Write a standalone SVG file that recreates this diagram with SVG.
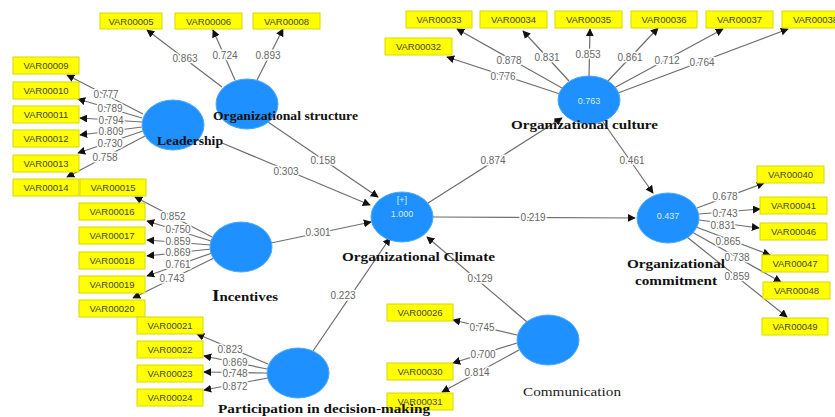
<svg xmlns="http://www.w3.org/2000/svg" width="835" height="417" viewBox="0 0 835 417">
<defs>
<marker id="ah" viewBox="0 0 10 10" refX="9" refY="5" markerWidth="8" markerHeight="8" markerUnits="userSpaceOnUse" orient="auto">
<path d="M0,0 L10,5 L0,10 z" fill="#111"/>
</marker>
<style>
.bg{fill:#fff}
.lv rect{fill:#ffff00;stroke:#d8d800;stroke-width:1}
.lv text{font-family:"Liberation Sans",Arial,sans-serif;font-size:9.5px;fill:#444;text-anchor:middle}
.cv ellipse{fill:#1e90ff;stroke:#4aa8ff;stroke-width:1}
.cv .val{font-family:"Liberation Sans",Arial,sans-serif;font-size:9px;fill:#d8ecff;text-anchor:middle}
.nm{font-family:"Liberation Serif","Times New Roman",serif;font-size:13px;font-weight:bold;fill:#111}
.nr{font-family:"Liberation Serif","Times New Roman",serif;font-size:13px;fill:#222}
#edges line{stroke:#6e6e6e;stroke-width:1.2;marker-end:url(#ah)}
#edges text{font-family:"Liberation Sans",Arial,sans-serif;font-size:10px;fill:#666;text-anchor:middle;stroke:#fff;stroke-width:3;paint-order:stroke;stroke-linejoin:round}
</style>
</defs>
<rect class="bg" x="0" y="0" width="835" height="417"/>

<g id="edges">
<!-- Org structure indicators -->
<line x1="222" y1="87" x2="147" y2="30"/>
<line x1="235" y1="80" x2="213" y2="30"/>
<line x1="257" y1="80" x2="283" y2="29"/>
<!-- Leadership indicators -->
<line x1="143" y1="114" x2="67" y2="75"/>
<line x1="142" y1="118" x2="78" y2="99"/>
<line x1="142" y1="122" x2="80" y2="118"/>
<line x1="142" y1="127" x2="80" y2="135"/>
<line x1="143" y1="131" x2="78" y2="153"/>
<line x1="145" y1="136" x2="67" y2="177"/>
<!-- Incentives indicators -->
<line x1="212" y1="237" x2="135" y2="197"/>
<line x1="211" y1="241" x2="147" y2="221"/>
<line x1="211" y1="245" x2="147" y2="240"/>
<line x1="211" y1="249" x2="147" y2="256"/>
<line x1="212" y1="253" x2="147" y2="276"/>
<line x1="214" y1="258" x2="133" y2="298"/>
<!-- Participation indicators -->
<line x1="268" y1="364" x2="197" y2="334"/>
<line x1="267" y1="369" x2="204" y2="356"/>
<line x1="267" y1="373" x2="204" y2="372"/>
<line x1="268" y1="378" x2="204" y2="390"/>
<!-- Communication indicators -->
<line x1="517" y1="335" x2="453" y2="320"/>
<line x1="517" y1="343" x2="453" y2="363"/>
<line x1="519" y1="350" x2="442" y2="392"/>
<!-- Org culture indicators -->
<line x1="560" y1="94" x2="447" y2="57"/>
<line x1="562" y1="88" x2="457" y2="29"/>
<line x1="569" y1="81" x2="523" y2="31"/>
<line x1="589" y1="77" x2="590" y2="29"/>
<line x1="607" y1="82" x2="658" y2="28"/>
<line x1="614" y1="88" x2="723" y2="29"/>
<line x1="618" y1="93" x2="788" y2="29"/>
<!-- Org commitment indicators -->
<line x1="697" y1="208" x2="764" y2="183"/>
<line x1="699" y1="214" x2="760" y2="209"/>
<line x1="699" y1="220" x2="759" y2="228"/>
<line x1="696" y1="227" x2="770" y2="255"/>
<line x1="692" y1="232" x2="781" y2="282"/>
<line x1="687" y1="237" x2="787" y2="317"/>
<!-- Structural paths -->
<line x1="222" y1="143" x2="370" y2="205"/>
<line x1="268" y1="122" x2="378" y2="197"/>
<line x1="271" y1="243" x2="371" y2="222"/>
<line x1="313" y1="351" x2="390" y2="238"/>
<line x1="527" y1="322" x2="427" y2="237"/>
<line x1="428" y1="203" x2="562" y2="118"/>
<line x1="433" y1="217" x2="635" y2="218"/>
<line x1="603" y1="122" x2="653" y2="193"/>

<text x="185" y="62">0.863</text>
<text x="225" y="59">0.724</text>
<text x="268" y="59">0.893</text>
<text x="106" y="98">0.777</text>
<text x="110" y="112">0.789</text>
<text x="111" y="124">0.794</text>
<text x="111" y="135">0.809</text>
<text x="110" y="147">0.730</text>
<text x="105" y="161">0.758</text>
<text x="173" y="220">0.852</text>
<text x="178" y="233">0.750</text>
<text x="178" y="245">0.859</text>
<text x="178" y="256">0.869</text>
<text x="178" y="268">0.761</text>
<text x="172" y="282">0.743</text>
<text x="230" y="353">0.823</text>
<text x="235" y="366">0.869</text>
<text x="235" y="377">0.748</text>
<text x="235" y="390">0.872</text>
<text x="482" y="331">0.745</text>
<text x="483" y="358">0.700</text>
<text x="477" y="376">0.814</text>
<text x="503" y="80">0.776</text>
<text x="509" y="64">0.878</text>
<text x="547" y="61">0.831</text>
<text x="588" y="58">0.853</text>
<text x="630" y="61">0.861</text>
<text x="667" y="64">0.712</text>
<text x="702" y="66">0.764</text>
<text x="725" y="200">0.678</text>
<text x="725" y="217">0.743</text>
<text x="723" y="229">0.831</text>
<text x="728" y="245">0.865</text>
<text x="737" y="261">0.738</text>
<text x="737" y="280">0.859</text>
<text x="286" y="175">0.303</text>
<text x="323" y="164">0.158</text>
<text x="318" y="236">0.301</text>
<text x="343" y="299">0.223</text>
<text x="480" y="282">0.129</text>
<text x="493" y="164">0.874</text>
<text x="533" y="221">0.219</text>
<text x="632" y="164">0.461</text>
</g>

<!-- indicator boxes -->
<g id="VAR00005" class="lv"><rect x="100" y="13" width="62" height="16"/><text x="131" y="24.5">VAR00005</text></g>
<g id="VAR00006" class="lv"><rect x="175" y="13" width="67" height="16"/><text x="208.5" y="24.5">VAR00006</text></g>
<g id="VAR00008" class="lv"><rect x="253" y="13" width="67" height="16"/><text x="286.5" y="24.5">VAR00008</text></g>
<g id="VAR00009" class="lv"><rect x="13" y="57" width="66" height="17"/><text x="46" y="69">VAR00009</text></g>
<g id="VAR00010" class="lv"><rect x="13" y="82" width="66" height="17"/><text x="46" y="94">VAR00010</text></g>
<g id="VAR00011" class="lv"><rect x="13" y="106" width="66" height="17"/><text x="46" y="118">VAR00011</text></g>
<g id="VAR00012" class="lv"><rect x="13" y="130" width="66" height="17"/><text x="46" y="142">VAR00012</text></g>
<g id="VAR00013" class="lv"><rect x="13" y="155" width="66" height="17"/><text x="46" y="167">VAR00013</text></g>
<g id="VAR00014" class="lv"><rect x="13" y="179" width="66" height="17"/><text x="46" y="191">VAR00014</text></g>
<g id="VAR00015" class="lv"><rect x="80" y="179" width="66" height="17"/><text x="113" y="191">VAR00015</text></g>
<g id="VAR00016" class="lv"><rect x="79" y="203" width="66" height="17"/><text x="112" y="215">VAR00016</text></g>
<g id="VAR00017" class="lv"><rect x="79" y="227" width="66" height="17"/><text x="112" y="239">VAR00017</text></g>
<g id="VAR00018" class="lv"><rect x="79" y="252" width="66" height="17"/><text x="112" y="264">VAR00018</text></g>
<g id="VAR00019" class="lv"><rect x="79" y="276" width="66" height="17"/><text x="112" y="288">VAR00019</text></g>
<g id="VAR00020" class="lv"><rect x="79" y="300" width="66" height="17"/><text x="112" y="312">VAR00020</text></g>
<g id="VAR00021" class="lv"><rect x="137" y="317" width="66" height="17"/><text x="170" y="329">VAR00021</text></g>
<g id="VAR00022" class="lv"><rect x="137" y="341" width="66" height="17"/><text x="170" y="353">VAR00022</text></g>
<g id="VAR00023" class="lv"><rect x="137" y="365" width="66" height="17"/><text x="170" y="377">VAR00023</text></g>
<g id="VAR00024" class="lv"><rect x="137" y="389" width="66" height="17"/><text x="170" y="401">VAR00024</text></g>
<g id="VAR00026" class="lv"><rect x="387" y="304" width="66" height="17"/><text x="420" y="316">VAR00026</text></g>
<g id="VAR00030" class="lv"><rect x="387" y="363" width="66" height="17"/><text x="420" y="375">VAR00030</text></g>
<g id="VAR00031" class="lv"><rect x="387" y="393" width="66" height="17"/><text x="420" y="405">VAR00031</text></g>
<g id="VAR00032" class="lv"><rect x="385" y="38" width="67" height="17"/><text x="418.5" y="50">VAR00032</text></g>
<g id="VAR00033" class="lv"><rect x="406" y="11" width="66" height="17"/><text x="439" y="23">VAR00033</text></g>
<g id="VAR00034" class="lv"><rect x="480" y="11" width="67" height="17"/><text x="513.5" y="23">VAR00034</text></g>
<g id="VAR00035" class="lv"><rect x="555" y="11" width="67" height="17"/><text x="588.5" y="23">VAR00035</text></g>
<g id="VAR00036" class="lv"><rect x="631" y="11" width="66" height="17"/><text x="664" y="23">VAR00036</text></g>
<g id="VAR00037" class="lv"><rect x="706" y="11" width="67" height="17"/><text x="739.5" y="23">VAR00037</text></g>
<g id="VAR00038" class="lv"><rect x="782" y="11" width="67" height="17"/><text x="815.5" y="23">VAR00038</text></g>
<g id="VAR00040" class="lv"><rect x="757" y="166" width="67" height="17"/><text x="790.5" y="178">VAR00040</text></g>
<g id="VAR00041" class="lv"><rect x="760" y="197" width="67" height="17"/><text x="793.5" y="209">VAR00041</text></g>
<g id="VAR00046" class="lv"><rect x="760" y="223" width="67" height="17"/><text x="793.5" y="235">VAR00046</text></g>
<g id="VAR00047" class="lv"><rect x="762" y="255" width="66" height="17"/><text x="795" y="267">VAR00047</text></g>
<g id="VAR00048" class="lv"><rect x="763" y="282" width="67" height="17"/><text x="796.5" y="294">VAR00048</text></g>
<g id="VAR00049" class="lv"><rect x="762" y="318" width="66" height="17"/><text x="795" y="330">VAR00049</text></g>

<!-- constructs -->
<g id="leadership" class="cv"><ellipse cx="173" cy="125" rx="31" ry="25"/><text class="nm" x="157" y="145" textLength="66" lengthAdjust="spacingAndGlyphs">Leadership</text></g>
<g id="org-structure" class="cv"><ellipse cx="247" cy="104" rx="31" ry="25"/><text class="nm" x="213" y="120" textLength="145" lengthAdjust="spacingAndGlyphs">Organizational structure</text></g>
<g id="incentives" class="cv"><ellipse cx="241" cy="247" rx="31" ry="25"/><text class="nm" x="212" y="301" textLength="66" lengthAdjust="spacingAndGlyphs"><tspan font-size="17">I</tspan>ncentives</text></g>
<g id="participation" class="cv"><ellipse cx="298" cy="373" rx="31" ry="25"/><text class="nm" x="218" y="413" textLength="212" lengthAdjust="spacingAndGlyphs">Participation in decision-making</text></g>
<g id="org-climate" class="cv"><ellipse cx="402" cy="217" rx="31" ry="25"/><text class="val" x="402" y="203">[+]</text><text class="val" x="402" y="217">1.000</text><text class="nm" x="342" y="261" textLength="153" lengthAdjust="spacingAndGlyphs">Organizational Climate</text></g>
<g id="communication" class="cv"><ellipse cx="548" cy="340" rx="31" ry="25"/><text class="nr" x="523" y="396" textLength="98" lengthAdjust="spacingAndGlyphs">Communication</text></g>
<g id="org-culture" class="cv"><ellipse cx="589" cy="100" rx="31" ry="24"/><text class="val" x="589" y="104">0.763</text><text class="nm" x="511" y="129" textLength="147" lengthAdjust="spacingAndGlyphs">Organizational culture</text></g>
<g id="org-commitment" class="cv"><ellipse cx="668" cy="218" rx="31" ry="25"/><text class="val" x="668" y="219">0.437</text><text class="nm" x="627" y="268" textLength="98" lengthAdjust="spacingAndGlyphs">Organizational</text><text class="nm" x="635" y="285" textLength="82" lengthAdjust="spacingAndGlyphs">commitment</text></g>
</svg>
